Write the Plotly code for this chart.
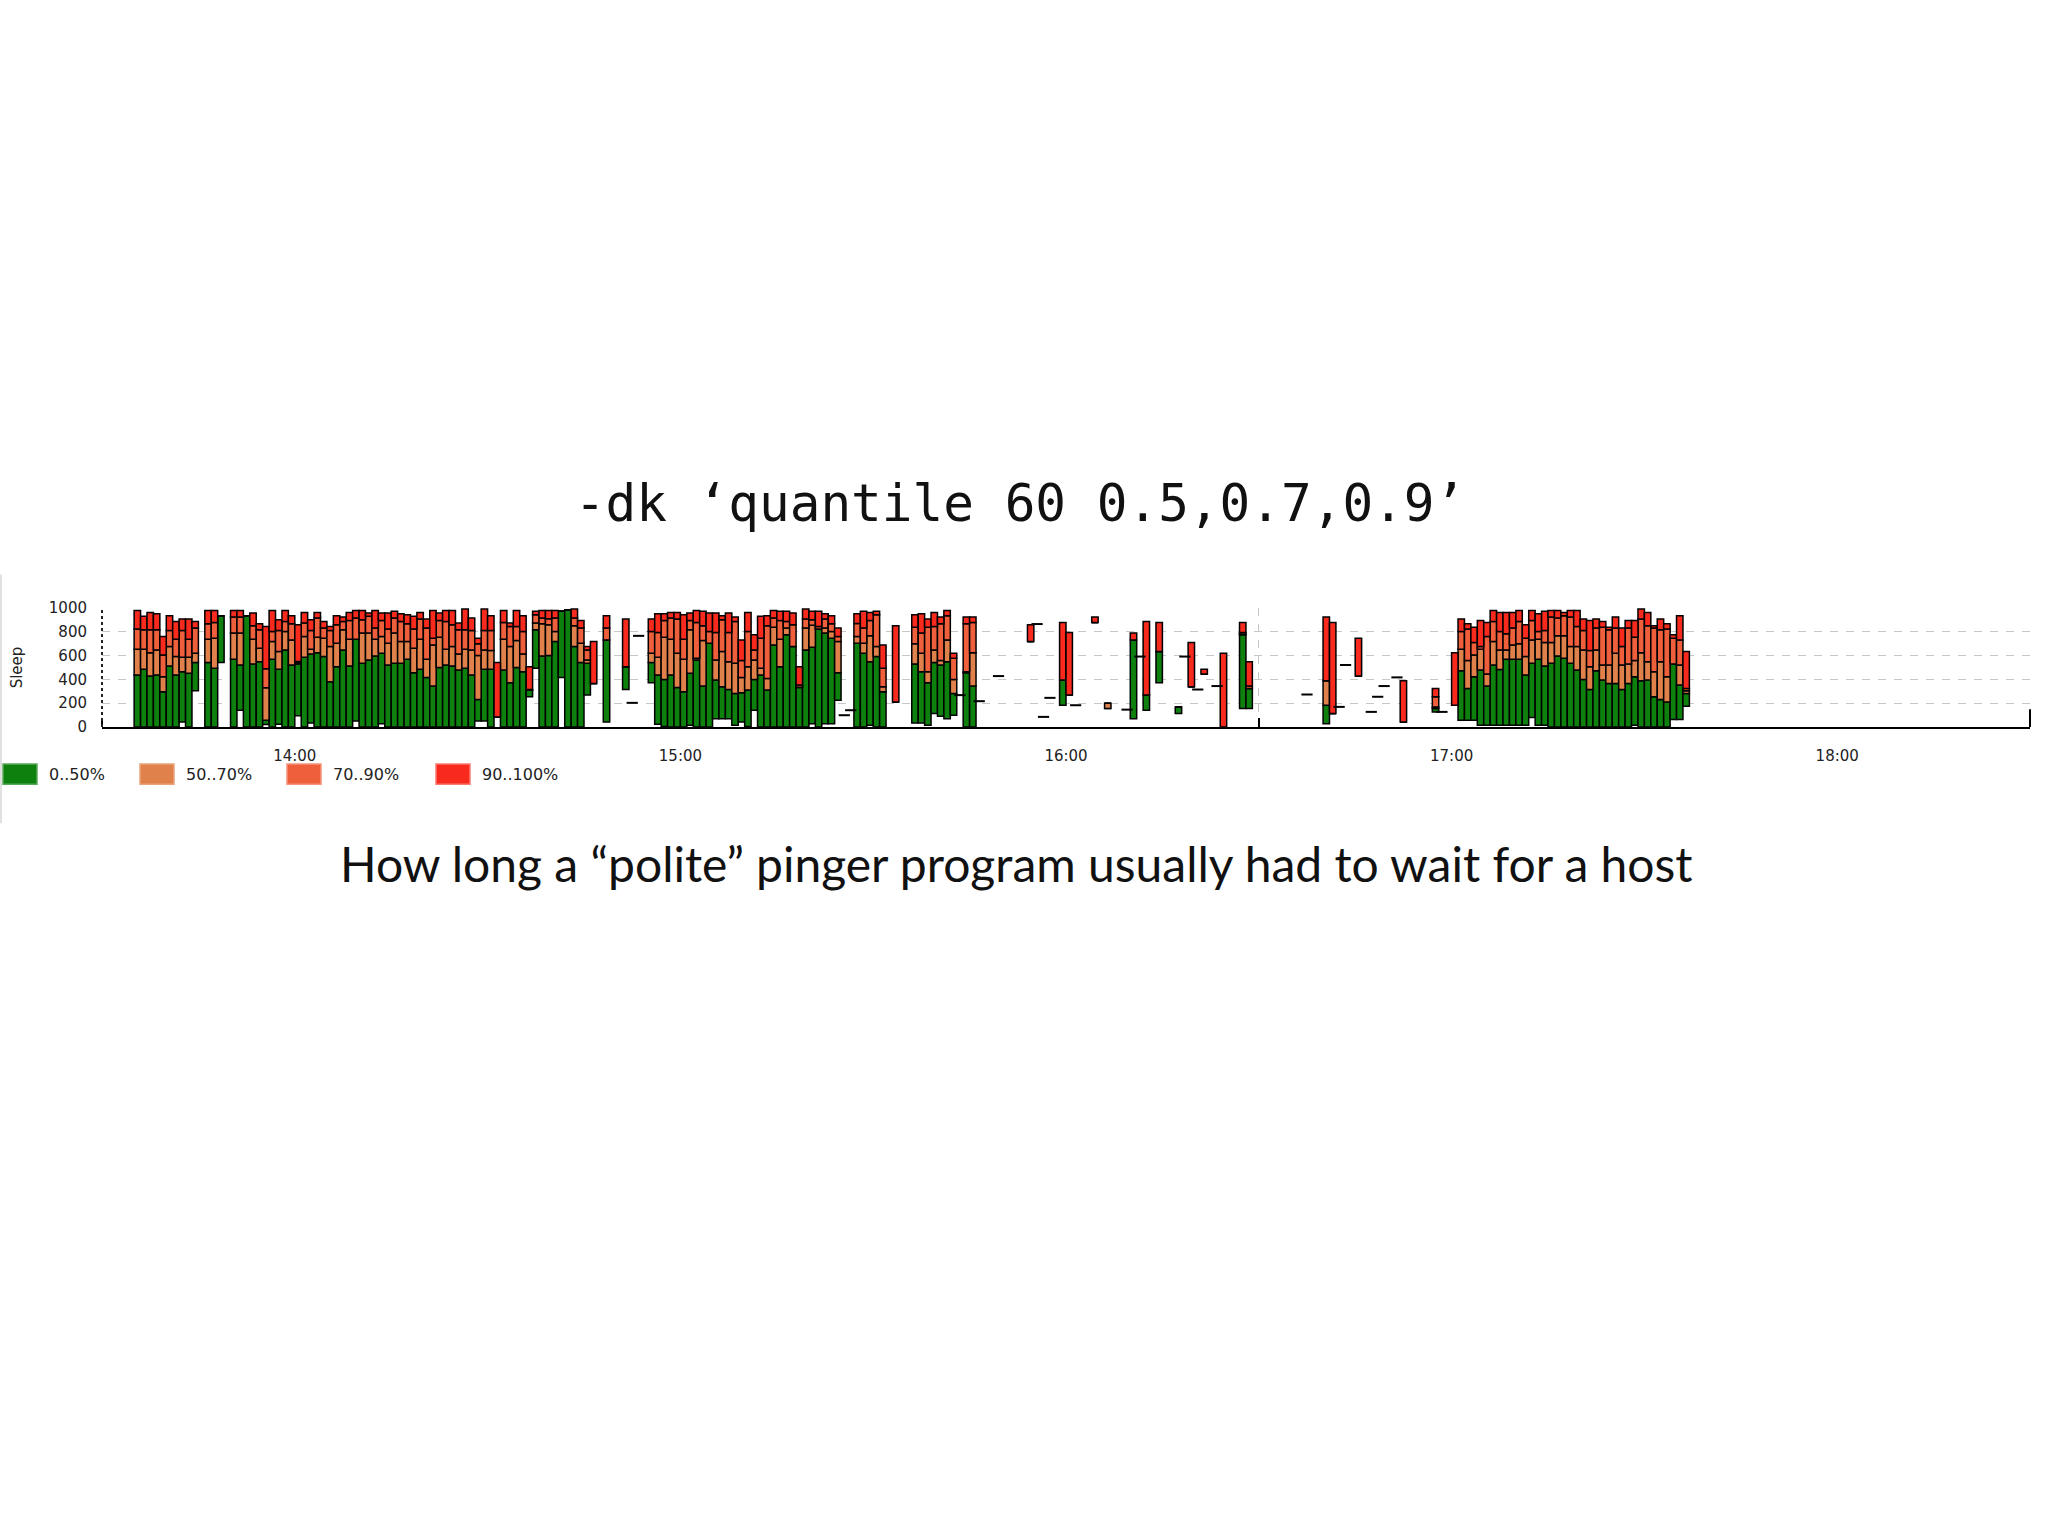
import plotly.graph_objects as go

DAY = "2000-01-01 "

# ---- per-minute quantile data (ms of sleep) ----
times = [
    "13:35", "13:36", "13:37", "13:38", "13:39", "13:40", "13:41", "13:42", "13:43", "13:44",
    "13:46", "13:47", "13:48",
    "13:50", "13:51", "13:52", "13:53", "13:54", "13:55", "13:56", "13:57", "13:58", "13:59",
    "14:00", "14:01", "14:02", "14:03", "14:04", "14:05", "14:06", "14:07", "14:08", "14:09",
    "14:10", "14:11", "14:12", "14:13", "14:14", "14:15", "14:16", "14:17", "14:18", "14:19",
    "14:20", "14:21", "14:22", "14:23", "14:24", "14:25", "14:26", "14:27", "14:28", "14:29",
    "14:30", "14:31", "14:32", "14:33", "14:34", "14:35", "14:36", "14:37", "14:38", "14:39",
    "14:40", "14:41", "14:42", "14:43", "14:44", "14:45", "14:46",
    "14:48", "14:51",
    "14:55", "14:56", "14:57", "14:58", "14:59", "15:00", "15:01", "15:02", "15:03", "15:04",
    "15:05", "15:06", "15:07", "15:08", "15:09", "15:10", "15:11", "15:12", "15:13", "15:14",
    "15:15", "15:16", "15:17", "15:18", "15:19", "15:20", "15:21", "15:22", "15:23", "15:24",
    "15:27", "15:28", "15:29", "15:30", "15:31", "15:33",
    "15:36", "15:37", "15:38", "15:39", "15:40", "15:41", "15:42", "15:44", "15:45",
    "15:54", "15:59", "16:00", "16:04", "16:06", "16:10", "16:12", "16:14", "16:17", "16:19",
    "16:21", "16:24", "16:27", "16:28", "16:40", "16:41", "16:45", "16:52", "16:57", "17:00",
    "17:01", "17:02", "17:03", "17:04", "17:05", "17:06", "17:07", "17:08", "17:09", "17:10",
    "17:11", "17:12", "17:13", "17:14", "17:15", "17:16", "17:17", "17:18", "17:19", "17:20",
    "17:21", "17:22", "17:23", "17:24", "17:25", "17:26", "17:27", "17:28", "17:29", "17:30",
    "17:31", "17:32", "17:33", "17:34", "17:35", "17:36",
]
p_min = [
    0, 0, 0, 0, 0, 0, 0, 42, 0, 304,
    0, 0, 541,
    0, 141, 0, 0, 0, 20, 0, 23, 0, 0,
    95, 0, 34, 0, 0, 0, 0, 0, 0, 51,
    0, 0, 0, 28, 0, 0, 0, 0, 0, 0,
    0, 0, 0, 0, 0, 0, 0, 0, 51, 51,
    0, 85, 0, 0, 0, 0, 254, 493, 0, 0,
    0, 417, 0, 0, 0, 268, 366,
    42, 315,
    372, 23, 5, 0, 0, 0, 14, 0, 0, 0,
    70, 70, 70, 14, 42, 5, 141, 0, 0, 0,
    0, 0, 0, 0, 0, 28, 0, 28, 28, 225,
    0, 0, 14, 0, 0, 211,
    34, 34, 14, 113, 90, 70, 99, 0, 0,
    718, 183, 268, 879, 155, 70, 141, 372, 113, 338,
    445, 0, 155, 155, 28, 113, 428, 42, 127, 183,
    56, 56, 56, 14, 14, 14, 14, 14, 14, 14,
    14, 79, 14, 14, 0, 0, 0, 0, 0, 0,
    0, 0, 0, 0, 0, 0, 0, 14, 0, 0,
    0, 0, 0, 62, 62, 175,
]
p50 = [
    437, 485, 428, 437, 296, 513, 437, 465, 451, 541,
    541, 493, 935,
    569, 521, 935, 530, 549, 56, 569, 485, 648, 521,
    530, 586, 614, 625, 592, 380, 507, 648, 513, 738,
    535, 563, 597, 620, 521, 535, 535, 569, 456, 485,
    417, 344, 501, 521, 513, 479, 493, 437, 231, 485,
    485, 85, 479, 372, 501, 465, 310, 817, 597, 600,
    718, 972, 985, 676, 541, 535, 366,
    732, 507,
    541, 437, 400, 437, 332, 296, 451, 563, 344, 704,
    394, 338, 315, 282, 287, 310, 400, 437, 310, 690,
    507, 775, 676, 332, 648, 670, 822, 789, 746, 456,
    704, 620, 549, 592, 296, 211,
    530, 465, 372, 541, 521, 549, 282, 456, 344,
    718, 394, 268, 879, 155, 732, 268, 634, 169, 338,
    445, 0, 775, 324, 183, 113, 428, 42, 155, 183,
    473, 324, 423, 479, 344, 521, 484, 569, 569, 569,
    437, 535, 569, 513, 535, 597, 577, 535, 479, 400,
    315, 473, 394, 366, 366, 315, 366, 423, 389, 394,
    254, 231, 211, 530, 352, 282,
]
p70 = [
    654, 654, 625, 648, 423, 676, 592, 586, 586, 620,
    738, 746, 935,
    789, 789, 935, 738, 662, 330, 718, 634, 803, 732,
    540, 760, 654, 755, 746, 676, 704, 817, 738, 738,
    789, 789, 738, 760, 704, 789, 718, 718, 662, 738,
    569, 690, 755, 654, 676, 614, 654, 648, 600, 648,
    642, 85, 738, 676, 727, 614, 315, 873, 868, 860,
    803, 972, 985, 851, 704, 563, 366,
    732, 507,
    620, 586, 755, 738, 620, 569, 817, 577, 727, 704,
    563, 634, 549, 535, 417, 507, 563, 493, 408, 839,
    738, 831, 676, 335, 831, 855, 823, 831, 803, 718,
    760, 704, 766, 676, 338, 211,
    699, 620, 465, 648, 558, 732, 400, 465, 625,
    718, 394, 268, 879, 200, 732, 268, 634, 169, 338,
    445, 0, 780, 324, 389, 113, 428, 42, 169, 183,
    654, 558, 606, 654, 445, 718, 648, 648, 690, 699,
    592, 732, 738, 710, 710, 766, 766, 676, 676, 648,
    507, 648, 521, 521, 620, 521, 530, 558, 625, 549,
    465, 549, 423, 530, 521, 304,
]
p90 = [
    823, 817, 817, 817, 605, 811, 738, 811, 738, 831,
    868, 879, 935,
    924, 924, 935, 851, 817, 490, 803, 811, 887, 868,
    550, 873, 811, 915, 831, 811, 859, 887, 896, 915,
    901, 930, 831, 896, 823, 915, 887, 868, 823, 907,
    831, 746, 896, 887, 859, 817, 817, 811, 700, 811,
    811, 85, 879, 845, 845, 803, 315, 944, 915, 910,
    915, 972, 985, 915, 831, 648, 366,
    831, 507,
    803, 794, 896, 915, 907, 738, 896, 879, 851, 803,
    794, 901, 794, 887, 558, 803, 648, 746, 851, 915,
    896, 887, 859, 352, 907, 901, 845, 907, 868, 760,
    870, 831, 896, 944, 493, 211,
    839, 789, 839, 845, 868, 935, 577, 868, 879,
    718, 394, 268, 879, 200, 732, 268, 634, 169, 338,
    445, 0, 794, 344, 389, 113, 428, 42, 254, 183,
    803, 823, 710, 676, 760, 887, 803, 783, 831, 887,
    746, 896, 803, 811, 924, 915, 935, 924, 845, 811,
    642, 831, 839, 817, 831, 676, 831, 755, 907, 851,
    831, 817, 823, 746, 732, 324,
]
p_max = [
    980, 930, 963, 952, 760, 935, 887, 907, 907, 887,
    980, 980, 935,
    980, 980, 935, 958, 868, 845, 980, 901, 980, 935,
    860, 963, 901, 963, 887, 845, 935, 924, 963, 980,
    980, 958, 980, 958, 958, 972, 952, 944, 930, 963,
    907, 980, 958, 980, 980, 873, 991, 915, 746, 991,
    935, 541, 980, 873, 980, 935, 507, 972, 980, 980,
    980, 972, 985, 991, 896, 676, 718,
    935, 907,
    907, 952, 952, 963, 963, 944, 958, 980, 972, 958,
    958, 935, 958, 924, 732, 963, 775, 930, 935, 980,
    972, 972, 958, 507, 991, 972, 972, 952, 935, 831,
    952, 972, 963, 972, 690, 851,
    944, 952, 907, 963, 924, 980, 620, 924, 924,
    859, 879, 794, 924, 200, 789, 887, 879, 169, 710,
    485, 620, 879, 549, 924, 879, 746, 389, 324, 625,
    907, 868, 839, 896, 879, 980, 963, 963, 963, 980,
    859, 980, 952, 972, 980, 980, 963, 980, 980, 907,
    896, 907, 887, 839, 924, 831, 896, 896, 991, 963,
    851, 907, 868, 775, 935, 634,
]

# minutes holding a single sample (drawn as a flat dash)
dash_times = [
    "14:52", "14:53", "15:25", "15:26", "15:43", "15:46", "15:49", "15:55", "15:56", "15:57",
    "16:01", "16:09", "16:11", "16:18", "16:20", "16:23", "16:37", "16:42", "16:43", "16:47",
    "16:48", "16:49", "16:51", "16:58",
]
dash_vals = [
    203, 766, 99, 141, 268, 217, 428, 865, 85, 245,
    183, 146, 592, 592, 315, 344, 273, 169, 521, 127,
    254, 344, 417, 127,
]

seg_names = ["0..50%", "50..70%", "70..90%", "90..100%"]
seg_colors = ["#0e800e", "#e0804a", "#f05f3c", "#f82a1e"]
seg_edge = ["#5aa85a", "#eaa47c", "#f5927a", "#fb7a70"]

x_start = [DAY + t + ":00" for t in times]
levels = [p_min, p50, p70, p90, p_max]

fig = go.Figure()
for i in range(4):
    lo = levels[i]
    hi = levels[i + 1]
    fig.add_trace(go.Bar(
        x=x_start, y=[h - l for l, h in zip(lo, hi)], base=lo,
        width=60000, offset=0, name=seg_names[i], showlegend=False,
        marker=dict(color=seg_colors[i], line=dict(color="black", width=1.5)),
    ))

fig.add_trace(go.Scatter(
    x=[DAY + t + ":30" for t in dash_times], y=dash_vals, mode="markers",
    marker=dict(symbol="line-ew", size=8, line=dict(color="black", width=2)),
    showlegend=False, hoverinfo="skip", name="single sample",
))

# ---- pixel geometry of the plot area ----
L, R, T, B = 102, 2030, 608.3, 727
PW, PH = R - L, B - T


def px(xp):
    return (xp - L) / PW


def py(yp):
    return (B - yp) / PH


# legend drawn as swatches + labels below the axis (rrdtool style)
legend_swatch_x = [3, 140, 287, 436]
shapes = [
    dict(type="line", xref="paper", yref="y", x0=0, x1=0, y0=0, y1=1000,
         line=dict(color="#222222", width=2, dash="dot")),
    dict(type="line", xref="paper", yref="y", x0=1, x1=1, y0=0, y1=150,
         line=dict(color="black", width=2)),
    dict(type="line", xref="paper", yref="paper", x0=px(1), x1=px(1),
         y0=py(823), y1=py(575), line=dict(color="#d6d6d6", width=1.5)),
]
annotations = [
    dict(text="How long a \u201cpolite\u201d pinger program usually had to wait for a host",
         xref="paper", yref="paper", x=px(1016), y=py(863),
         xanchor="center", yanchor="middle", showarrow=False,
         font=dict(family="Lato", size=48, color="#111111")),
]
for name, c, e, sx in zip(seg_names, seg_colors, seg_edge, legend_swatch_x):
    shapes.append(dict(type="rect", xref="paper", yref="paper",
                       x0=px(sx), x1=px(sx + 34), y0=py(784), y1=py(764),
                       fillcolor=c, line=dict(color=e, width=1.5)))
    annotations.append(dict(text=name, xref="paper", yref="paper", x=px(sx + 44), y=py(774),
                            xanchor="left", yanchor="middle", showarrow=False,
                            font=dict(family="DejaVu Sans", size=16, color="#222222")))

fig.update_layout(
    width=2048, height=1536,
    margin=dict(l=L, r=2048 - R, t=T, b=1536 - B, pad=0, autoexpand=False),
    paper_bgcolor="white", plot_bgcolor="white",
    barmode="overlay", showlegend=False,
    font=dict(family="DejaVu Sans", size=15, color="#222222"),
    title=dict(text="-dk \u2018quantile 60 0.5,0.7,0.9\u2019", x=1020 / 2048, xanchor="center",
               y=1 - 503 / 1536, yanchor="middle", yref="container",
               font=dict(family="DejaVu Sans Mono", size=51, color="#111111")),
    xaxis=dict(
        type="date", automargin=False,
        range=[DAY + "13:30:00", DAY + "18:30:00"],
        tick0=DAY + "14:00:00", dtick=3600000, tickformat="%H:%M",
        showgrid=False, ticks="", ticklabelstandoff=14,
        showline=True, linecolor="black", linewidth=2,
        tickfont=dict(size=15, color="#222222"),
        minor=dict(tick0=DAY + "13:30:00", dtick=3 * 3600000, showgrid=True,
                   gridcolor="#c8c8c8", griddash="8px,8px", gridwidth=1,
                   ticks="inside", ticklen=9, tickcolor="black", tickwidth=2),
        zeroline=False, fixedrange=True,
    ),
    yaxis=dict(
        range=[0, 1000], dtick=200, tick0=0, automargin=False,
        showgrid=True, gridcolor="#c8c8c8", griddash="8px,8px", gridwidth=1,
        zeroline=False, showline=False, ticks="", ticklabelstandoff=14,
        tickfont=dict(size=15, color="#222222"),
        title=dict(text="Sleep", standoff=22, font=dict(size=15, color="#222222")),
        fixedrange=True,
    ),
    annotations=annotations,
    shapes=shapes,
)

fig.write_html("out.html", config={"displayModeBar": False},
               post_script="document.body.style.margin='0';")
